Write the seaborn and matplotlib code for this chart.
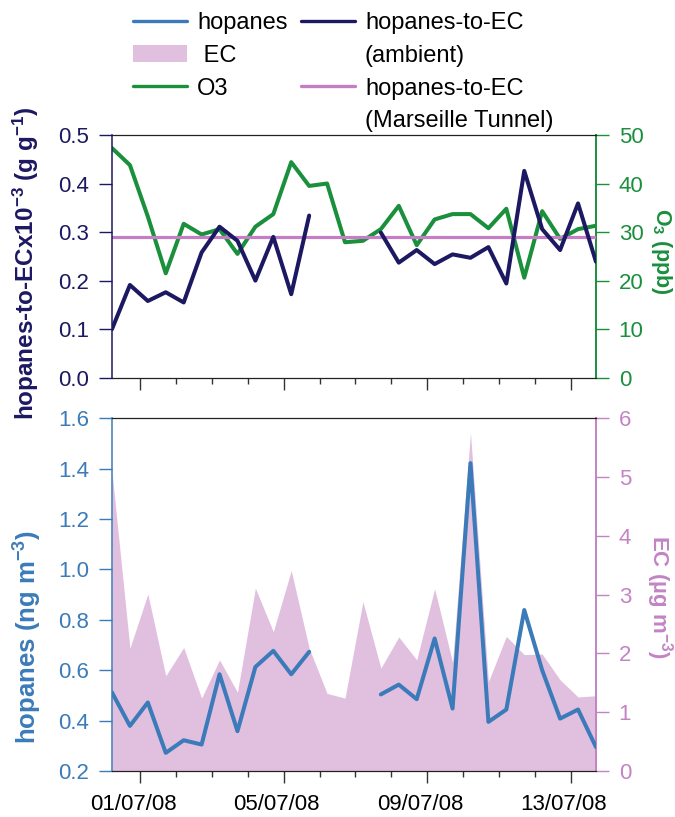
import numpy as np
import pandas as pd
import matplotlib
matplotlib.use("Agg")
import matplotlib.pyplot as plt
import matplotlib.dates as mdates
import matplotlib.ticker as mticker
import matplotlib.transforms as mtransforms
from matplotlib.lines import Line2D
from matplotlib.patches import Patch
import seaborn as sns

# --- data: 12-hourly samples, 30/06/08 05:00 -> 13/07/08 17:00 ---
sample_start = "2008-06-30 05:00"
n_samples = 28

hopanes = [0.512, 0.379, 0.472, 0.272, 0.322, 0.305, 0.584, 0.358, 0.613, 0.677,
           0.584, 0.673, np.nan, np.nan, np.nan, 0.504, 0.543, 0.485, 0.726, 0.448,
           1.422, 0.395, 0.444, 0.839, 0.600, 0.408, 0.444, 0.295]          # ng m-3
ec = [5.09, 2.09, 3.01, 1.62, 2.10, 1.24, 1.89, 1.34, 3.11, 2.37,
      3.41, 2.09, 1.32, 1.24, 2.88, 1.75, 2.28, 1.89, 3.10, 1.85,
      5.75, 1.52, 2.29, 1.98, 1.99, 1.55, 1.26, 1.28]                         # ug m-3
ratio_ambient = [0.100, 0.191, 0.158, 0.176, 0.155, 0.258, 0.311, 0.282, 0.200, 0.290,
                 0.172, 0.334, np.nan, np.nan, np.nan, 0.299, 0.237, 0.263, 0.234, 0.254,
                 0.247, 0.269, 0.194, 0.426, 0.306, 0.263, 0.359, 0.239]     # g g-1 x1e-3
o3 = [47.3, 43.8, 33.2, 21.5, 31.7, 29.5, 30.6, 25.5, 31.1, 33.7,
      44.4, 39.5, 40.0, 27.9, 28.2, 30.6, 35.4, 27.3, 32.6, 33.7,
      33.7, 30.8, 34.8, 20.6, 34.3, 28.6, 30.6, 31.3]                         # ppb
ratio_tunnel = 0.29

legend_labels = ["hopanes", " EC", "O3", "",
                 "hopanes-to-EC", "(ambient)", "hopanes-to-EC", "(Marseille Tunnel)"]

# --- colours ---
NAVY = "#1c1862"
GREEN = "#1a8f3c"
BLUE = "#3b7bb9"
EC_FILL = "#e1bfdf"
TUNNEL = "#c47ec3"
EC_AXIS = "#c383c4"

df = pd.DataFrame({
    "time": pd.date_range(sample_start, periods=n_samples, freq="12h"),
    "hopanes": hopanes,
    "ec": ec,
    "ratio": ratio_ambient,
    "o3": o3,
})
df["segment"] = df["hopanes"].isna().cumsum()
df["tunnel"] = ratio_tunnel
valid = df.dropna(subset=["hopanes"])

sns.set_theme(style="ticks")
plt.rcParams["font.family"] = ["Liberation Sans", "DejaVu Sans"]
plt.rcParams["text.color"] = "black"
plt.rcParams["mathtext.fontset"] = "custom"
plt.rcParams["mathtext.rm"] = "Liberation Sans"
plt.rcParams["mathtext.bf"] = "Liberation Sans:bold"
plt.rcParams["mathtext.default"] = "regular"

fig = plt.figure(figsize=(6.75, 8.17), dpi=100)
ax_t = fig.add_axes([0.1659, 0.5377, 0.7170, 0.2971])
ax_b = fig.add_axes([0.1659, 0.0563, 0.7170, 0.4317])
ax_t2 = ax_t.twinx()
ax_b2 = ax_b.twinx()

for main, twin in ((ax_t, ax_t2), (ax_b, ax_b2)):
    main.set_zorder(twin.get_zorder() + 1)
    main.patch.set_visible(False)

LW = 2.9

# --- top panel ---
sns.lineplot(data=df, x="time", y="tunnel", color=TUNNEL, lw=2.3, ax=ax_t, zorder=1)
sns.lineplot(data=df, x="time", y="o3", color=GREEN, lw=LW, ax=ax_t2)
sns.lineplot(data=valid, x="time", y="ratio", units="segment", estimator=None,
             color=NAVY, lw=LW, ax=ax_t, zorder=3)

# --- bottom panel ---
ax_b2.fill_between(df["time"], 0, df["ec"], color=EC_FILL, lw=0)
sns.lineplot(data=valid, x="time", y="hopanes", units="segment", estimator=None,
             color=BLUE, lw=LW, ax=ax_b)

xmin, xmax = df["time"].iloc[0], df["time"].iloc[-1]
for a in (ax_t, ax_b, ax_t2, ax_b2):
    a.set_xlim(xmin, xmax)
    a.set_xlabel("")
    a.set_ylabel("")

ax_t.set_ylim(0, 0.5)
ax_t.yaxis.set_major_locator(mticker.MultipleLocator(0.1))
ax_t.yaxis.set_major_formatter(mticker.FormatStrFormatter("%.1f"))
ax_t2.set_ylim(0, 50)
ax_t2.yaxis.set_major_locator(mticker.MultipleLocator(10))
ax_b.set_ylim(0.2, 1.6)
ax_b.yaxis.set_major_locator(mticker.MultipleLocator(0.2))
ax_b.yaxis.set_major_formatter(mticker.FormatStrFormatter("%.1f"))
ax_b2.set_ylim(0, 6)
ax_b2.yaxis.set_major_locator(mticker.MultipleLocator(1))

for a in (ax_t, ax_b):
    a.xaxis.set_major_locator(mdates.DayLocator(bymonthday=[1, 5, 9, 13]))
    a.xaxis.set_minor_locator(mdates.DayLocator())
    a.xaxis.set_major_formatter(mdates.DateFormatter("%d/%m/%y"))
    a.tick_params(axis="x", which="major", length=8.6, width=1.0, color="#333333",
                  direction="out", labelsize=16, pad=8, labelcolor="black")
    a.tick_params(axis="x", which="minor", length=4.3, width=1.0, color="#333333",
                  direction="out")
ax_t.tick_params(axis="x", labelbottom=False)

def style_y(a, color, side):
    a.tick_params(axis="y", colors=color, length=9.4, width=1.0, direction="out",
                  labelsize=16, pad=7)
    for s in ("left", "right", "top", "bottom"):
        a.spines[s].set_visible(False)
    a.spines[side].set_visible(True)
    a.spines[side].set_color(color)
    a.spines[side].set_linewidth(1.4 if side == "right" else 1.1)

style_y(ax_t, NAVY, "left")
style_y(ax_t2, GREEN, "right")
style_y(ax_b, BLUE, "left")
style_y(ax_b2, EC_AXIS, "right")
for a in (ax_t, ax_b):
    for s in ("top", "bottom"):
        a.spines[s].set_visible(True)
        a.spines[s].set_color("#222222")
        a.spines[s].set_linewidth(0.9)

# date labels sit slightly left of their ticks
shift = mtransforms.ScaledTranslation(-0.07, 0, fig.dpi_scale_trans)
for lab in ax_b.get_xticklabels():
    lab.set_transform(lab.get_transform() + shift)

# --- axis titles ---
ax_t.set_ylabel("hopanes-to-ECx10$^{-3}$ (g g$^{-1}$)", color=NAVY, fontsize=17.5,
                fontweight="bold", va="center")
ax_t.yaxis.set_label_coords(-0.177, 0.473)
ax_t2.set_ylabel("O$_3$ (ppb)", color=GREEN, fontsize=15.5, fontweight="bold",
                 rotation=270, va="center")
ax_t2.yaxis.set_label_coords(1.136, 0.52)
ax_b.set_ylabel("hopanes (ng m$^{-3}$)", color=BLUE, fontsize=18.5,
                fontweight="bold", va="center")
ax_b.yaxis.set_label_coords(-0.174, 0.381)
ax_b2.set_ylabel("EC (µg m$^{-3}$)", color=EC_AXIS, fontsize=16, fontweight="bold",
                 rotation=270, va="center")
ax_b2.yaxis.set_label_coords(1.132, 0.493)

# --- legend ---
blank = Line2D([], [], color="none")
handles = [Line2D([], [], color=BLUE, lw=2.4),
           Patch(facecolor=EC_FILL, edgecolor="none"),
           Line2D([], [], color=GREEN, lw=2.4),
           blank,
           Line2D([], [], color=NAVY, lw=2.4),
           blank,
           Line2D([], [], color=TUNNEL, lw=2.4),
           blank]
fig.legend(handles, legend_labels, ncol=2, loc="upper left",
           bbox_to_anchor=(0.197, 0.985), frameon=False, fontsize=17,
           labelcolor="black",
           handlelength=2.3, handletextpad=0.42, columnspacing=0.55,
           labelspacing=0.45, borderpad=0, borderaxespad=0)

fig.savefig("out.png", dpi=100)
